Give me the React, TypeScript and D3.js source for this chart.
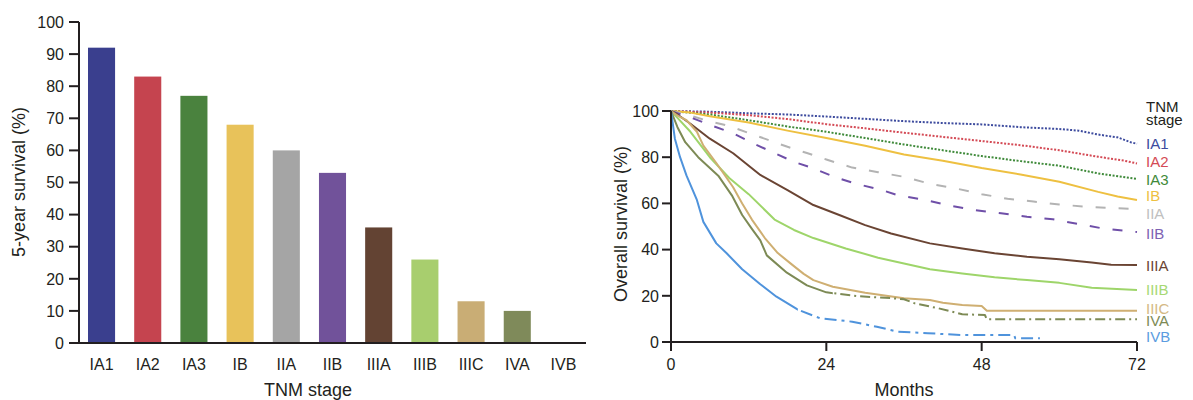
import React from "react";
import * as d3 from "d3";

// ---------- DATA ----------
const stages = ["IA1", "IA2", "IA3", "IB", "IIA", "IIB", "IIIA", "IIIB", "IIIC", "IVA", "IVB"];
const fiveYearSurvival = [92, 83, 77, 68, 60, 53, 36, 26, 13, 10, 0];
const barYTicks = [0, 10, 20, 30, 40, 50, 60, 70, 80, 90, 100];
const survTicks = [0, 20, 40, 60, 80, 100];
const monthTicks = [0, 24, 48, 72];

type Pt = [number, number];
const curveIA1: Pt[] = [[0, 100], [6, 99.7], [12, 99], [18, 98.5], [24, 97.6], [30, 96.6], [36, 95.6], [42, 94.8], [48, 94.2], [54, 93], [60, 92.2], [63, 91.5], [66, 89.8], [69, 88.6], [71, 86.5], [72, 85.8]];
const curveIA2: Pt[] = [[0, 100], [6, 99.3], [12, 98.2], [18, 96.5], [24, 94.3], [30, 92.5], [36, 90.6], [42, 88.8], [48, 87], [54, 85.2], [60, 83], [66, 80.2], [70, 78.5], [72, 77.3]];
const curveIA3: Pt[] = [[0, 100], [6, 98.5], [12, 96], [18, 93.3], [24, 91], [30, 88.3], [36, 85.5], [42, 83], [48, 80.5], [54, 78.3], [60, 76.3], [66, 73], [72, 70.6]];
const curveIB: Pt[] = [[0, 100], [3, 99.3], [6, 97.7], [12, 95], [18, 91.5], [24, 88.3], [30, 85], [36, 81.2], [42, 78.5], [48, 75.3], [54, 72.5], [60, 69.4], [66, 65], [69, 63], [72, 61.5]];
const curveIIA: Pt[] = [[0, 100], [3, 98], [6, 95.5], [9, 93.5], [12, 90.5], [15, 87.5], [18, 84.5], [21, 81.8], [24, 79], [28, 75.5], [32, 73.5], [36, 71.5], [40, 68.5], [44, 66.5], [48, 64], [52, 62], [56, 60.8], [60, 59.5], [64, 58.6], [68, 58], [72, 57.6]];
const curveIIB: Pt[] = [[0, 100], [2, 98], [3.4, 96.8], [6.5, 93.5], [9.6, 90.3], [12.7, 86], [15.8, 82], [19, 78], [22, 75.2], [25.4, 71.3], [28.7, 68.4], [32.3, 66], [35, 63.6], [39.7, 61.2], [43.4, 58.9], [47, 57.1], [51, 55.7], [55, 54.2], [59, 53.1], [63, 51.1], [66.6, 49.2], [72, 47.6]];
const curveIIIA: Pt[] = [[0, 100], [1, 98.5], [3, 94.5], [6, 88], [9.6, 81.7], [13.8, 72.3], [18, 65.8], [22, 59.3], [26, 55], [30, 50.6], [34, 47], [40, 42.7], [45, 40.5], [50, 38.4], [55, 36.9], [60, 35.8], [65, 34.4], [68, 33.4], [72, 33.3]];
const curveIIIB: Pt[] = [[0, 100], [1, 97], [3, 91], [6, 80], [9, 71], [12, 64], [16, 53], [19, 48.5], [22, 45], [27, 40.5], [32, 36.5], [36, 34], [40, 31.5], [45, 29.7], [50, 28], [55, 26.8], [60, 25.6], [65, 23.5], [72, 22.5]];
const curveIIIC: Pt[] = [[0, 100], [1, 98], [2.4, 96], [4, 91], [5, 85], [7, 77.5], [9.6, 67], [11, 60], [12.5, 53], [14.5, 45], [16.5, 38.5], [18.7, 33.5], [20.5, 29.5], [22, 26.8], [25, 23.9], [30, 21.3], [36, 18.9], [40, 18.2], [42, 17], [45, 16], [48, 15.6], [48.8, 13.5], [72, 13.5]];
const curveIVA: Pt[] = [[0, 100], [1, 93], [2.2, 86.5], [4.2, 80], [7.3, 72], [9.4, 63.5], [11, 55], [12.5, 49], [13.8, 44], [14.8, 37.5], [17.9, 30], [21, 24.5], [24, 21.5], [29, 19.8], [34, 19], [36, 18.5], [37.7, 16.7], [41.3, 14.6], [45, 12], [48.5, 11.7], [48.8, 9.8], [72, 9.8]];
const curveIVB: Pt[] = [[0, 100], [0.6, 88], [1.4, 80], [2.4, 72], [4, 61.5], [5, 52], [7, 42.7], [8.6, 38.4], [11, 31.5], [13.8, 25], [16.3, 19.6], [19.6, 14], [23, 10.3], [28, 8.8], [31.8, 6.6], [35, 4.5], [39.7, 3.8], [45, 3], [53, 3], [53.2, 1.6], [57, 1.6]];
const curves = [curveIA1, curveIA2, curveIA3, curveIB, curveIIA, curveIIB, curveIIIA, curveIIIB, curveIIIC, curveIVA, curveIVB];

// ---------- STYLE ----------
const barColors = ["#3a3f8e", "#c5444f", "#4a823e", "#e8c25a", "#a5a5a5", "#71529a", "#634333", "#a8ce6e", "#c9ad75", "#7f8a5a", "#4f93dc"];
const lineColors = ["#3d4b9e", "#d44a55", "#3f8a3a", "#eec041", "#b3b3b3", "#6f4fa8", "#6a4433", "#9ed56a", "#cfaf72", "#7d8a55", "#4f93dc"];
const labelColors = ["#3d4b9e", "#d44a55", "#3f8a3a", "#eec041", "#c0c0c0", "#7d62b3", "#6a4433", "#a6d873", "#d4b985", "#7d8a55", "#5b9ce0"];
const lineDash = ["2,1.6", "2,1.6", "2,1.6", null, "10,13", "10,13", null, null, null, "10,4,2,4", "12,5,3,5"];
const solidUntil: (number | null)[] = [null, null, null, null, null, null, null, null, null, 25, 19.6];
const legendAt = [86, 78.1, 70.4, 63.2, 55.7, 47.1, 33, 22.5, 14.6, 9.1, 2.3];

const FONT = "'Liberation Sans', Arial, Helvetica, sans-serif";
const INK = "#231f20";

export default function App() {
  // left bar chart
  const yB = d3.scaleLinear().domain([0, 100]).range([343, 22]);
  const xB = d3.scaleBand<string>().domain(stages).range([79, 586]).paddingInner(0.414).paddingOuter(0.195);

  // right survival chart
  const xS = d3.scaleLinear().domain([0, 72]).range([671, 1137]);
  const yS = d3.scaleLinear().domain([0, 100]).range([342, 111]);
  const line = d3.line<Pt>().x((d) => xS(d[0])).y((d) => yS(d[1])).curve(d3.curveLinear);

  return (
    <svg width={1193} height={400} style={{ position: "absolute", left: 0, top: 0, background: "#fff" }} fontFamily={FONT}>
      <defs>
        {curves.map((_, i) =>
          solidUntil[i] != null ? (
            <React.Fragment key={i}>
              <clipPath id={`solid-${i}`}>
                <rect x={600} y={0} width={xS(solidUntil[i] as number) - 600} height={400} />
              </clipPath>
              <clipPath id={`dash-${i}`}>
                <rect x={xS(solidUntil[i] as number)} y={0} width={1193 - xS(solidUntil[i] as number)} height={400} />
              </clipPath>
            </React.Fragment>
          ) : null
        )}
      </defs>

      {/* ---- Left: bars ---- */}
      <g>
        {stages.map((s, i) =>
          fiveYearSurvival[i] > 0 ? (
            <rect key={s} x={xB(s)} y={yB(fiveYearSurvival[i])} width={xB.bandwidth()} height={yB(0) - yB(fiveYearSurvival[i])} fill={barColors[i]} />
          ) : null
        )}
        <line x1={79} x2={79} y1={yB(100)} y2={yB(0)} stroke={INK} strokeWidth={2} />
        <line x1={78} x2={586} y1={yB(0)} y2={yB(0)} stroke={INK} strokeWidth={2} />
        {barYTicks.map((t) => (
          <g key={t}>
            <line x1={69} x2={79} y1={yB(t)} y2={yB(t)} stroke={INK} strokeWidth={2} />
            <text x={64} y={yB(t)} dy="0.36em" textAnchor="end" fontSize={16} fill={INK}>{t}</text>
          </g>
        ))}
        {stages.map((s) => (
          <text key={s} x={(xB(s) as number) + xB.bandwidth() / 2} y={370} textAnchor="middle" fontSize={16} fill={INK}>{s}</text>
        ))}
        <text x={308} y={396} textAnchor="middle" fontSize={18} fill={INK}>TNM stage</text>
        <text transform={`translate(25,182) rotate(-90)`} textAnchor="middle" fontSize={18} fill={INK}>5-year survival (%)</text>
      </g>

      {/* ---- Right: survival curves ---- */}
      <g>
        {curves.map((c, i) => {
          const d = line(c) as string;
          const common = { fill: "none", stroke: lineColors[i], strokeWidth: 2, strokeLinejoin: "round" as const };
          if (solidUntil[i] != null) {
            return (
              <g key={i}>
                <path d={d} {...common} clipPath={`url(#solid-${i})`} />
                <path d={d} {...common} strokeDasharray={lineDash[i] ?? undefined} clipPath={`url(#dash-${i})`} />
              </g>
            );
          }
          return <path key={i} d={d} {...common} strokeDasharray={lineDash[i] ?? undefined} />;
        })}
        <line x1={671} x2={671} y1={yS(100)} y2={yS(0) + 1} stroke={INK} strokeWidth={2} />
        <line x1={670} x2={1137} y1={yS(0)} y2={yS(0)} stroke={INK} strokeWidth={2} />
        {survTicks.map((t) => (
          <g key={t}>
            <line x1={662} x2={671} y1={yS(t)} y2={yS(t)} stroke={INK} strokeWidth={2} />
            <text x={659} y={yS(t)} dy="0.36em" textAnchor="end" fontSize={16} fill={INK}>{t}</text>
          </g>
        ))}
        {monthTicks.map((t) => (
          <g key={t}>
            <line x1={xS(t)} x2={xS(t)} y1={yS(0)} y2={yS(0) + 9} stroke={INK} strokeWidth={2} />
            <text x={xS(t)} y={370} textAnchor="middle" fontSize={16} fill={INK}>{t}</text>
          </g>
        ))}
        <text x={904} y={396} textAnchor="middle" fontSize={18} fill={INK}>Months</text>
        <text transform={`translate(627,224) rotate(-90)`} textAnchor="middle" fontSize={18} fill={INK}>Overall survival (%)</text>

        <text x={1146} y={112} fontSize={15} fill={INK}>TNM</text>
        <text x={1146} y={125} fontSize={15} fill={INK}>stage</text>
        {stages.map((s, i) => (
          <text key={s} x={1146} y={yS(legendAt[i])} dy="0.36em" fontSize={15} fill={labelColors[i]}>{s}</text>
        ))}
      </g>
    </svg>
  );
}
